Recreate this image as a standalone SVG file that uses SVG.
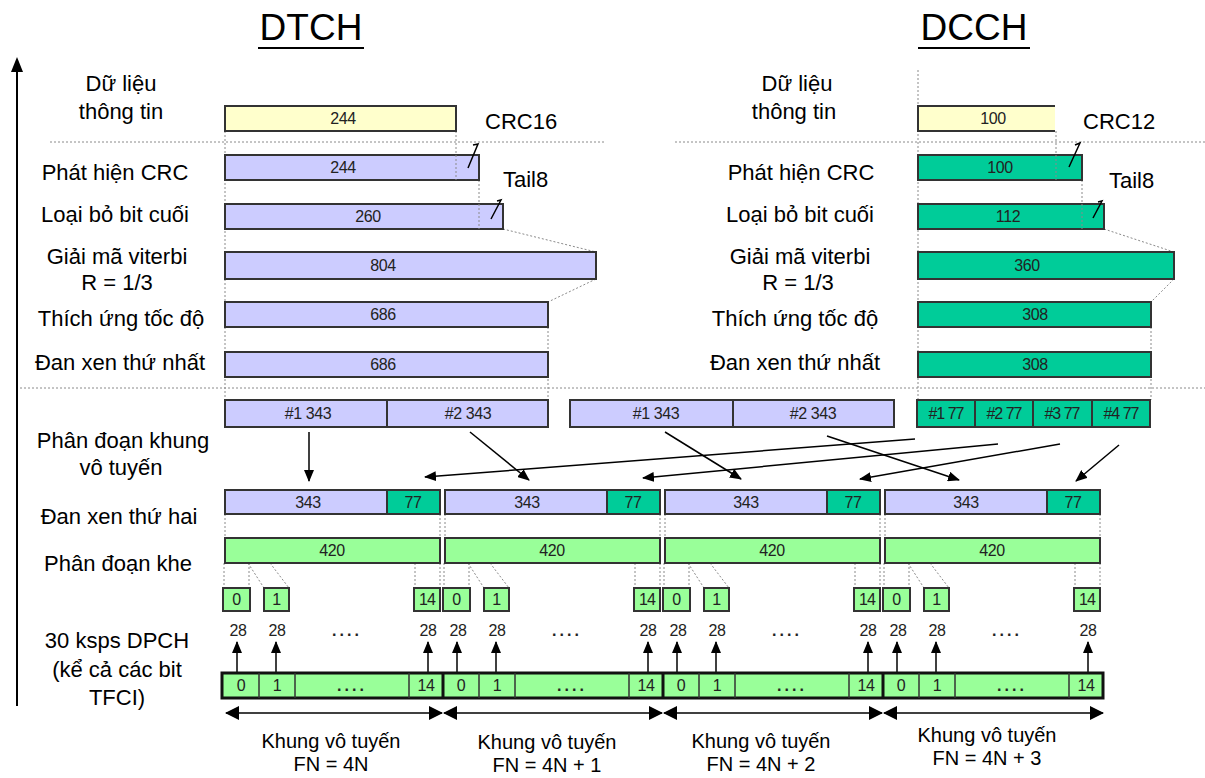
<svg xmlns="http://www.w3.org/2000/svg" width="1205" height="778" viewBox="0 0 1205 778">
<style>
.lbl{font-family:"Liberation Sans",Arial,sans-serif;font-size:22px;fill:#000;text-anchor:middle}
.flb{font-family:"Liberation Sans",Arial,sans-serif;font-size:20px;fill:#000;text-anchor:middle}
.ttl{font-family:"Liberation Sans",Arial,sans-serif;font-size:37px;fill:#000;text-anchor:middle}
.num{font-family:"Liberation Sans",Arial,sans-serif;font-size:16px;fill:#222;text-anchor:middle;letter-spacing:-0.4px}
.dots{font-weight:bold;letter-spacing:3px}
.box{stroke:#333;stroke-width:2}
.lav{fill:#ccccff}.grn{fill:#00cc99}.lg{fill:#99ff99}.yel{fill:#ffffcc}
.dot{stroke:#8a8a8a;stroke-width:1;stroke-dasharray:2 2;fill:none}
.arr{stroke:#000;stroke-width:1.5;fill:none;marker-end:url(#ah)}
.dbl{stroke:#000;stroke-width:1.5;fill:none;marker-start:url(#bh);marker-end:url(#bh)}
.tick{stroke:#000;stroke-width:1.5;fill:none}
</style>
<defs>
<marker id="ah" markerUnits="userSpaceOnUse" markerWidth="12" markerHeight="10" refX="11" refY="5" orient="auto"><path d="M0,0 L12,5 L0,10 z" fill="#000"/></marker>
<marker id="bh" markerUnits="userSpaceOnUse" markerWidth="14" markerHeight="14" refX="13" refY="7" orient="auto-start-reverse"><path d="M0,0 L14,7 L0,14 z" fill="#000"/></marker>
</defs>
<rect width="1205" height="778" fill="#fff"/>

<g id="titles">
<text class="ttl" x="311" y="40">DTCH</text>
<line x1="258" y1="48" x2="364" y2="48" stroke="#000" stroke-width="2"/>
<text class="ttl" x="974" y="40">DCCH</text>
<line x1="918" y1="48" x2="1030" y2="48" stroke="#000" stroke-width="2"/>
</g>

<g id="axis">
<line x1="17" y1="706" x2="17" y2="70" stroke="#000" stroke-width="2"/>
<path d="M11,72 L17,57 L23,72 z" fill="#000"/>
</g>

<g id="guides">
<line class="dot" x1="50" y1="142" x2="605" y2="142"/>
<line class="dot" x1="675" y1="142" x2="1205" y2="142"/>
<line class="dot" x1="20" y1="388" x2="1205" y2="388"/>
<line class="dot" x1="225" y1="131" x2="225" y2="400"/>
<line class="dot" x1="456" y1="131" x2="456" y2="180"/>
<line class="dot" x1="479" y1="180" x2="479" y2="229"/>
<line class="dot" x1="548" y1="327" x2="548" y2="400"/>
<line class="dot" x1="918" y1="70" x2="918" y2="400"/>
<line class="dot" x1="1056" y1="131" x2="1056" y2="180"/>
<line class="dot" x1="1082" y1="180" x2="1082" y2="229"/>
<line class="dot" x1="1151" y1="327" x2="1151" y2="400"/>
<line class="dot" x1="503" y1="229" x2="596" y2="252"/>
<line class="dot" x1="596" y1="279" x2="548" y2="302"/>
<line class="dot" x1="1104" y1="229" x2="1174" y2="252"/>
<line class="dot" x1="1174" y1="279" x2="1151" y2="302"/>
<path class="dot" d="M225,514V538M440,514V538M445,514V538M660,514V538M665,514V538M880,514V538M885,514V538M1100,514V538"/>
<path class="dot" d="M224,563V588M249,563V588M248,563L264,588M270,563L289,588M415,563V588M440,563V588"/>
<path class="dot" d="M444,563V588M469,563V588M468,563L484,588M490,563L509,588M635,563V588M660,563V588"/>
<path class="dot" d="M664,563V588M689,563V588M688,563L704,588M710,563L729,588M855,563V588M880,563V588"/>
<path class="dot" d="M884,563V588M909,563V588M908,563L924,588M930,563L949,588M1075,563V588M1100,563V588"/>
</g>

<g id="labels-left">
<text class="lbl" x="121" y="91">Dữ liệu</text>
<text class="lbl" x="121" y="119">thông tin</text>
<text class="lbl" x="115" y="180">Phát hiện CRC</text>
<text class="lbl" x="115" y="222">Loại bỏ bit cuối</text>
<text class="lbl" x="117" y="264">Giải mã viterbi</text>
<text class="lbl" x="117" y="290">R = 1/3</text>
<text class="lbl" x="121" y="326">Thích ứng tốc độ</text>
<text class="lbl" x="120" y="370">Đan xen thứ nhất</text>
<text class="lbl" x="123" y="448">Phân đoạn khung</text>
<text class="lbl" x="121" y="475">vô tuyến</text>
<text class="lbl" x="119" y="524">Đan xen thứ hai</text>
<text class="lbl" x="118" y="571">Phân đoạn khe</text>
<text class="lbl" x="117" y="648">30 ksps DPCH</text>
<text class="lbl" x="117" y="677">(kể cả các bit</text>
<text class="lbl" x="117" y="705">TFCI)</text>
</g>

<g id="labels-right">
<text class="lbl" x="797" y="91">Dữ liệu</text>
<text class="lbl" x="794" y="119">thông tin</text>
<text class="lbl" x="801" y="180">Phát hiện CRC</text>
<text class="lbl" x="800" y="222">Loại bỏ bit cuối</text>
<text class="lbl" x="800" y="264">Giải mã viterbi</text>
<text class="lbl" x="798" y="290">R = 1/3</text>
<text class="lbl" x="795" y="326">Thích ứng tốc độ</text>
<text class="lbl" x="795" y="370">Đan xen thứ nhất</text>
</g>

<g id="dtch-blocks">
<rect class="box yel" x="225" y="106" width="231" height="25"/><text class="num" x="343" y="124">244</text>
<rect class="box lav" x="225" y="155" width="254" height="25"/><line class="dot" x1="456" y1="155" x2="456" y2="180"/><text class="num" x="343" y="173">244</text>
<rect class="box lav" x="225" y="204" width="278" height="25"/><line class="dot" x1="479" y1="204" x2="479" y2="229"/><text class="num" x="368" y="222">260</text>
<rect class="box lav" x="225" y="252" width="371" height="27"/><text class="num" x="383" y="271">804</text>
<rect class="box lav" x="225" y="302" width="323" height="25"/><text class="num" x="383" y="320">686</text>
<rect class="box lav" x="225" y="352" width="323" height="25"/><text class="num" x="383" y="370">686</text>
<path class="tick" d="M473,145 L478,144 L468,168"/>
<path class="tick" d="M497,201 L501,200 L491,219"/>
<text class="lbl" x="485" y="129" style="text-anchor:start">CRC16</text>
<text class="lbl" x="503" y="187" style="text-anchor:start">Tail8</text>
</g>

<g id="dcch-blocks">
<rect class="yel" x="918" y="106" width="137" height="25"/>
<path d="M1055,106H918V131H1055" fill="none" stroke="#333" stroke-width="2"/>
<text class="num" x="993" y="124">100</text>
<rect class="box grn" x="918" y="155" width="164" height="25"/><line class="dot" x1="1056" y1="155" x2="1056" y2="180"/><text class="num" x="1000" y="173">100</text>
<rect class="box grn" x="918" y="204" width="186" height="25"/><line class="dot" x1="1082" y1="204" x2="1082" y2="229"/><text class="num" x="1008" y="222">112</text>
<rect class="box grn" x="918" y="252" width="256" height="27"/><text class="num" x="1027" y="271">360</text>
<rect class="box grn" x="918" y="302" width="233" height="25"/><text class="num" x="1035" y="320">308</text>
<rect class="box grn" x="918" y="352" width="233" height="25"/><text class="num" x="1035" y="370">308</text>
<path class="tick" d="M1075,145 L1080,143 L1069,167"/>
<path class="tick" d="M1098,202 L1102,201 L1093,218"/>
<text class="lbl" x="1083" y="129" style="text-anchor:start">CRC12</text>
<text class="lbl" x="1109" y="188" style="text-anchor:start">Tail8</text>
</g>

<g id="frame-segments">
<rect class="box lav" x="225" y="400" width="162" height="27"/><text class="num" x="308" y="419">#1  343</text>
<rect class="box lav" x="387" y="400" width="161" height="27"/><text class="num" x="468" y="419">#2  343</text>
<rect class="box lav" x="570" y="400" width="163" height="27"/><text class="num" x="656" y="419">#1  343</text>
<rect class="box lav" x="733" y="400" width="161" height="27"/><text class="num" x="813" y="419">#2  343</text>
<rect class="box grn" x="917" y="400" width="58" height="27"/><text class="num" x="946" y="419" style="letter-spacing:-1px">#1 77</text>
<rect class="box grn" x="975" y="400" width="58" height="27"/><text class="num" x="1004" y="419" style="letter-spacing:-1px">#2 77</text>
<rect class="box grn" x="1033" y="400" width="59" height="27"/><text class="num" x="1062" y="419" style="letter-spacing:-1px">#3 77</text>
<rect class="box grn" x="1092" y="400" width="58" height="27"/><text class="num" x="1121" y="419" style="letter-spacing:-1px">#4 77</text>
</g>

<g id="connectors">
<line class="arr" x1="309" y1="432" x2="309" y2="481"/>
<line class="arr" x1="470" y1="432" x2="529" y2="480"/>
<line class="arr" x1="665" y1="432" x2="741" y2="479"/>
<line class="arr" x1="827" y1="436" x2="959" y2="480"/>
<line class="arr" x1="915" y1="439" x2="425" y2="477"/>
<line class="arr" x1="998" y1="444" x2="643" y2="478"/>
<line class="arr" x1="1060" y1="444" x2="860" y2="479"/>
<line class="arr" x1="1119" y1="445" x2="1076" y2="481"/>
<line class="arr" x1="237" y1="673" x2="237" y2="642"/>
<line class="arr" x1="276" y1="673" x2="276" y2="642"/>
<line class="arr" x1="428" y1="673" x2="428" y2="642"/>
<line class="arr" x1="457" y1="673" x2="457" y2="642"/>
<line class="arr" x1="496" y1="673" x2="496" y2="642"/>
<line class="arr" x1="648" y1="673" x2="648" y2="642"/>
<line class="arr" x1="677" y1="673" x2="677" y2="642"/>
<line class="arr" x1="716" y1="673" x2="716" y2="642"/>
<line class="arr" x1="868" y1="673" x2="868" y2="642"/>
<line class="arr" x1="897" y1="673" x2="897" y2="642"/>
<line class="arr" x1="936" y1="673" x2="936" y2="642"/>
<line class="arr" x1="1088" y1="673" x2="1088" y2="642"/>
<line class="dbl" x1="226" y1="713" x2="442" y2="713"/>
<line class="dbl" x1="444" y1="713" x2="662" y2="713"/>
<line class="dbl" x1="664" y1="713" x2="882" y2="713"/>
<line class="dbl" x1="884" y1="713" x2="1103" y2="713"/>
</g>

<g id="second-interleave">
<rect class="box lav" x="225" y="490" width="162" height="24"/><rect class="box grn" x="387" y="490" width="53" height="24"/>
<text class="num" x="308" y="507.5">343</text><text class="num" x="413" y="507.5">77</text>
<rect class="box lav" x="445" y="490" width="162" height="24"/><rect class="box grn" x="607" y="490" width="53" height="24"/>
<text class="num" x="527" y="507.5">343</text><text class="num" x="633" y="507.5">77</text>
<rect class="box lav" x="665" y="490" width="162" height="24"/><rect class="box grn" x="827" y="490" width="53" height="24"/>
<text class="num" x="746" y="507.5">343</text><text class="num" x="853" y="507.5">77</text>
<rect class="box lav" x="885" y="490" width="162" height="24"/><rect class="box grn" x="1047" y="490" width="53" height="24"/>
<text class="num" x="966" y="507.5">343</text><text class="num" x="1073" y="507.5">77</text>
</g>

<g id="slot-segmentation">
<rect class="box lg" x="225" y="538" width="215" height="25"/><text class="num" x="332" y="556">420</text>
<rect class="box lg" x="445" y="538" width="215" height="25"/><text class="num" x="552" y="556">420</text>
<rect class="box lg" x="665" y="538" width="215" height="25"/><text class="num" x="772" y="556">420</text>
<rect class="box lg" x="885" y="538" width="215" height="25"/><text class="num" x="992" y="556">420</text>
</g>

<g id="slots">
<rect class="box lg" x="223" y="588" width="27" height="23"/><text class="num" x="236.5" y="605">0</text>
<rect class="box lg" x="264" y="588" width="25" height="23"/><text class="num" x="276.5" y="605">1</text>
<rect class="box lg" x="414" y="588" width="26" height="23"/><text class="num" x="427" y="605" style="letter-spacing:-1px">14</text>
<rect class="box lg" x="443" y="588" width="27" height="23"/><text class="num" x="456.5" y="605">0</text>
<rect class="box lg" x="484" y="588" width="25" height="23"/><text class="num" x="496.5" y="605">1</text>
<rect class="box lg" x="634" y="588" width="26" height="23"/><text class="num" x="647" y="605" style="letter-spacing:-1px">14</text>
<rect class="box lg" x="663" y="588" width="27" height="23"/><text class="num" x="676.5" y="605">0</text>
<rect class="box lg" x="704" y="588" width="25" height="23"/><text class="num" x="716.5" y="605">1</text>
<rect class="box lg" x="854" y="588" width="26" height="23"/><text class="num" x="867" y="605" style="letter-spacing:-1px">14</text>
<rect class="box lg" x="883" y="588" width="27" height="23"/><text class="num" x="896.5" y="605">0</text>
<rect class="box lg" x="924" y="588" width="25" height="23"/><text class="num" x="936.5" y="605">1</text>
<rect class="box lg" x="1074" y="588" width="26" height="23"/><text class="num" x="1087" y="605" style="letter-spacing:-1px">14</text>
</g>

<g id="slot-sizes">
<text class="num" x="238" y="636">28</text><text class="num" x="277" y="636">28</text><text class="num dots" x="347" y="636">....</text><text class="num" x="428" y="636">28</text>
<text class="num" x="458" y="636">28</text><text class="num" x="497" y="636">28</text><text class="num dots" x="567" y="636">....</text><text class="num" x="648" y="636">28</text>
<text class="num" x="678" y="636">28</text><text class="num" x="717" y="636">28</text><text class="num dots" x="787" y="636">....</text><text class="num" x="868" y="636">28</text>
<text class="num" x="898" y="636">28</text><text class="num" x="937" y="636">28</text><text class="num dots" x="1007" y="636">....</text><text class="num" x="1088" y="636">28</text>
</g>

<g id="dpch">
<rect class="lg" x="222" y="673" width="881" height="25" stroke="#111" stroke-width="3"/>
<path d="M259,673V698M295,673V698M409,673V698M479,673V698M515,673V698M629,673V698M699,673V698M735,673V698M849,673V698M919,673V698M955,673V698M1069,673V698" stroke="#333" stroke-width="1.5"/>
<path d="M443,673V698M663,673V698M883,673V698" stroke="#111" stroke-width="3"/>
<text class="num" x="241" y="691">0</text><text class="num" x="277" y="691">1</text><text class="num dots" x="352" y="691">....</text><text class="num" x="426" y="691">14</text>
<text class="num" x="461" y="691">0</text><text class="num" x="497" y="691">1</text><text class="num dots" x="572" y="691">....</text><text class="num" x="646" y="691">14</text>
<text class="num" x="681" y="691">0</text><text class="num" x="717" y="691">1</text><text class="num dots" x="792" y="691">....</text><text class="num" x="866" y="691">14</text>
<text class="num" x="901" y="691">0</text><text class="num" x="937" y="691">1</text><text class="num dots" x="1012" y="691">....</text><text class="num" x="1086" y="691">14</text>
</g>

<g id="frame-labels">
<text class="flb" x="331" y="748">Khung vô tuyến</text><text class="flb" x="331" y="771">FN = 4N</text>
<text class="flb" x="547" y="749">Khung vô tuyến</text><text class="flb" x="547" y="772">FN = 4N + 1</text>
<text class="flb" x="761" y="748">Khung vô tuyến</text><text class="flb" x="761" y="771">FN = 4N + 2</text>
<text class="flb" x="987" y="742">Khung vô tuyến</text><text class="flb" x="987" y="765">FN = 4N + 3</text>
</g>
</svg>
